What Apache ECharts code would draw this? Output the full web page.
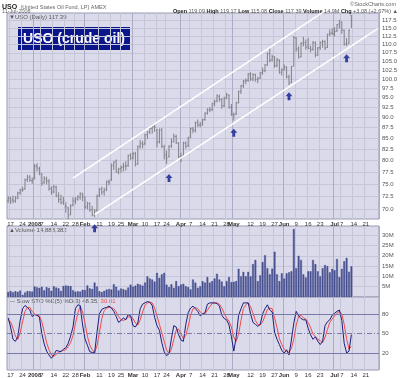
<!DOCTYPE html>
<html>
<head>
<meta charset="utf-8">
<script src="https://cdn.jsdelivr.net/npm/echarts@6/dist/echarts.min.js"></script>
<style>
  html, body { margin: 0; padding: 0; background: #fff; }
  #chart { width: 400px; height: 378px; }
</style>
</head>
<body>
<div id="chart"></div>
<script>
// trading days per month (last group = empty future days on the axis)
const tradeMonths = ['2007-12', '2008-01', '2008-02', '2008-03', '2008-04', '2008-05', '2008-06', '2008-07']
const tradeDays = [
    [14, 17, 18, 19, 20, 21, 24, 26, 27, 28, 31],
    [2, 3, 4, 7, 8, 9, 10, 11, 14, 15, 16, 17, 18, 22, 23, 24, 25, 28, 29, 30, 31],
    [1, 4, 5, 6, 7, 8, 11, 12, 13, 14, 15, 19, 20, 21, 22, 25, 26, 27, 28, 29],
    [3, 4, 5, 6, 7, 10, 11, 12, 13, 14, 17, 18, 19, 20, 24, 25, 26, 27, 28, 31],
    [1, 2, 3, 4, 7, 8, 9, 10, 11, 14, 15, 16, 17, 18, 21, 22, 23, 24, 25, 28, 29, 30],
    [1, 2, 5, 6, 7, 8, 9, 12, 13, 14, 15, 16, 19, 20, 21, 22, 23, 27, 28, 29, 30],
    [2, 3, 4, 5, 6, 9, 10, 11, 12, 13, 16, 17, 18, 19, 20, 23, 24, 25, 26, 27, 30],
    [1, 2, 3, 7, 8, 9, 10, 11, 14, 15, 16, 17, 18, 21, 22, 23, 24, 25, 28]
]

// tick labels on the date axis
const tickDates = ['2007-12-17', '2007-12-24', '2008-01-02', '2008-01-07', '2008-01-14', '2008-01-22', '2008-01-28',
    '2008-02-01', '2008-02-11', '2008-02-19', '2008-02-25', '2008-03-03', '2008-03-10', '2008-03-17', '2008-03-24',
    '2008-04-01', '2008-04-07', '2008-04-14', '2008-04-21', '2008-04-28', '2008-05-01', '2008-05-12', '2008-05-19',
    '2008-05-27', '2008-06-02', '2008-06-09', '2008-06-16', '2008-06-23', '2008-07-01', '2008-07-07', '2008-07-14', '2008-07-21']
const tickTexts = ['17', '24', '2008', '7', '14', '22', '28', 'Feb', '11', '19', '25', 'Mar', '10', '17', '24',
    'Apr', '7', '14', '21', '28', 'May', '12', '19', '27', 'Jun', '9', '16', '23', 'Jul', '7', '14', '21']
const monthTicks = ['2008', 'Feb', 'Mar', 'Apr', 'May', 'Jun', 'Jul']

const priceTicks = [70, 72.5, 75, 77.5, 80, 82.5, 85, 87.5, 90, 92.5, 95, 97.5, 100, 102.5, 105, 107.5, 110, 112.5, 115, 117.5]
const volTicks = [5, 10, 15, 20, 25, 30]
const stoTicks = [20, 50, 80]

// USO daily bars, Dec 14 2007 .. Jul 11 2008
const opens = [
    71.6, 72.0, 71.8, 71.6, 72.2, 73.2, 73.8, 74.0, 75.9, 76.4, 75.7,
    76.1, 78.8, 78.2, 77.0, 75.4, 76.0, 75.5, 74.0, 73.4, 74.3, 72.5, 71.9, 71.3, 70.4, 70.2, 69.0, 70.8, 71.5, 72.0, 72.3, 73.0,
    72.2, 70.5, 71.0, 69.9, 68.9, 69.7, 72.6, 74.0, 73.4, 73.9, 75.4, 75.8, 78.8, 79.8, 77.4, 78.2, 78.5, 78.9, 78.9, 81.1,
    80.7, 81.5, 79.3, 83.2, 83.7, 83.8, 85.9, 86.5, 87.3, 87.8, 86.9, 84.2, 86.9, 83.0, 81.3, 80.9, 83.2, 84.3, 85.4, 83.8,
    81.0, 81.0, 83.8, 83.3, 85.2, 87.2, 86.9, 88.8, 88.2, 88.4, 89.5, 91.1, 92.0, 92.0, 93.5, 94.2, 95.4, 94.5, 93.0, 95.0, 95.6, 92.6,
    90.7, 90.9, 93.8, 96.7, 98.2, 99.5, 99.7, 101.3, 100.1, 101.2, 99.8, 100.3, 101.8, 102.4, 104.0, 107.3, 105.4, 106.2, 103.8, 105.3, 101.9,
    102.7, 103.2, 100.5, 99.1, 103.7, 111.9, 108.6, 106.4, 110.4, 110.5, 109.6, 108.8, 108.5, 110.4, 106.9, 109.1, 110.5, 110.9, 109.1, 113.1, 113.5,
    113.2, 114.2, 116.3, 116.9, 114.3, 110.2, 110.4, 119.09
]
const highs = [
    72.5, 72.4, 72.6, 72.5, 73.4, 74.0, 74.4, 76.1, 76.9, 76.8, 76.3,
    79.2, 79.4, 78.6, 77.3, 76.6, 76.5, 76.0, 74.5, 74.8, 74.6, 73.3, 72.8, 72.4, 71.3, 70.4, 70.9, 72.3, 72.3, 72.7, 73.3, 73.2,
    72.4, 71.4, 71.3, 70.6, 70.0, 72.8, 74.1, 74.4, 74.2, 75.7, 75.9, 79.3, 79.8, 80.2, 78.4, 78.9, 79.5, 79.8, 81.3, 81.6,
    81.9, 81.9, 83.3, 84.6, 84.4, 86.0, 86.7, 87.7, 88.2, 88.3, 87.2, 87.3, 87.4, 83.5, 82.2, 83.4, 85.0, 86.1, 85.8, 84.1,
    81.7, 84.2, 84.3, 85.4, 87.6, 87.7, 89.0, 89.5, 88.9, 89.7, 91.3, 92.3, 92.6, 93.7, 94.5, 95.9, 95.8, 94.9, 95.3, 96.3, 95.9, 93.4,
    91.2, 94.0, 96.9, 98.4, 99.8, 100.2, 101.7, 101.9, 101.6, 101.5, 100.6, 102.0, 103.2, 104.2, 107.6, 108.8, 106.9, 106.5, 106.0, 105.6, 103.0,
    104.1, 103.6, 101.2, 103.7, 112.5, 112.2, 109.4, 110.6, 112.3, 111.5, 112.0, 109.6, 111.0, 110.9, 109.2, 110.9, 111.4, 111.2, 113.3, 114.6, 115.0,
    115.3, 116.3, 117.6, 117.2, 114.6, 111.9, 114.6, 119.17
]
const lows = [
    71.2, 71.0, 71.1, 71.2, 71.9, 72.8, 73.4, 73.8, 75.4, 75.4, 75.0,
    75.9, 77.6, 76.8, 74.6, 75.0, 74.9, 73.6, 72.8, 73.1, 72.3, 71.2, 70.9, 70.8, 69.3, 68.1, 68.8, 70.5, 70.9, 71.6, 71.8, 71.5,
    70.0, 69.9, 69.5, 68.6, 68.4, 69.5, 72.3, 72.8, 72.6, 73.5, 74.7, 75.6, 77.9, 77.3, 77.0, 77.3, 77.6, 77.8, 78.6, 80.1,
    80.2, 78.7, 79.0, 82.6, 82.7, 83.4, 84.8, 86.0, 86.1, 86.5, 82.9, 83.8, 82.8, 80.2, 79.2, 80.6, 82.8, 84.0, 83.7, 80.5,
    79.6, 80.7, 82.6, 83.0, 85.0, 86.2, 86.4, 87.7, 87.6, 88.0, 89.2, 90.7, 91.3, 91.6, 92.8, 93.8, 94.0, 92.2, 92.6, 94.6, 92.2, 90.4,
    89.2, 90.6, 93.5, 96.0, 97.6, 98.6, 99.2, 99.5, 99.4, 99.3, 98.9, 100.0, 101.2, 101.9, 103.7, 104.7, 104.9, 103.2, 103.3, 101.5, 101.0,
    102.4, 100.2, 98.4, 98.9, 103.5, 107.8, 105.8, 106.1, 109.4, 108.4, 108.5, 107.6, 108.1, 106.2, 106.6, 108.3, 109.0, 108.3, 108.9, 112.5, 112.8,
    112.4, 113.8, 114.9, 113.3, 109.6, 109.5, 110.2, 115.08
]
const closes = [
    72.1, 71.6, 71.5, 72.1, 73.1, 73.7, 73.8, 75.8, 76.3, 75.8, 75.8,
    78.7, 78.4, 77.3, 75.1, 76.1, 75.6, 74.0, 73.2, 74.4, 72.6, 71.8, 71.2, 71.6, 70.5, 68.7, 70.6, 71.7, 71.9, 72.4, 72.9, 72.5,
    70.3, 71.1, 69.8, 68.8, 69.6, 72.5, 73.9, 73.3, 73.7, 75.4, 75.4, 79.0, 79.6, 77.6, 78.1, 78.4, 78.7, 78.7, 81.0, 80.5,
    81.4, 79.1, 83.1, 83.8, 83.6, 85.8, 86.5, 87.4, 87.7, 87.6, 84.0, 87.0, 83.1, 81.0, 80.5, 83.1, 84.2, 85.5, 84.0, 80.8,
    80.8, 83.9, 83.1, 85.0, 87.3, 86.8, 88.7, 88.1, 88.1, 89.4, 91.0, 91.9, 91.9, 93.4, 94.0, 95.5, 94.6, 92.8, 94.8, 95.8, 92.5, 90.8,
    90.6, 93.6, 96.6, 98.1, 99.4, 99.6, 101.4, 100.0, 101.3, 99.9, 100.2, 101.7, 102.3, 103.9, 107.2, 105.3, 106.4, 103.7, 105.5, 101.9, 102.5,
    103.4, 100.6, 98.9, 103.4, 112.1, 108.7, 106.2, 110.3, 110.6, 109.1, 108.9, 108.4, 110.6, 106.7, 108.9, 110.6, 110.8, 108.9, 113.0, 113.4, 113.3,
    114.0, 116.1, 117.5, 114.4, 110.1, 110.1, 114.3, 117.39
]
// volume, millions of shares
const volumes = [
    2.4, 2.9, 2.3, 2.8, 2.5, 3.1, 1.0, 2.2, 2.9, 2.8, 2.6,
    5.1, 4.7, 4.4, 5.0, 3.2, 4.8, 4.4, 3.0, 5.2, 4.6, 4.2, 2.9, 5.3, 5.6, 5.4, 5.3, 3.3, 2.6, 2.8, 2.6, 3.5,
    3.4, 5.6, 4.2, 3.9, 7.0, 5.1, 2.8, 2.4, 3.0, 3.6, 3.9, 3.6, 6.2, 5.0, 3.2, 4.1, 3.8, 3.4, 4.6, 6.0,
    5.0, 5.5, 6.4, 6.0, 5.5, 7.0, 10.0, 9.0, 8.5, 7.5, 11.7, 9.3, 11.0, 11.7, 6.0, 4.8, 6.2, 4.5, 7.7, 5.2,
    6.0, 6.4, 5.2, 4.8, 3.7, 8.5, 7.0, 4.5, 5.2, 7.7, 7.0, 9.7, 7.0, 7.7, 9.0, 11.3, 8.5, 7.5, 5.2, 7.7, 9.7, 7.2,
    7.4, 7.7, 13.7, 10.0, 12.2, 10.0, 12.2, 10.0, 16.0, 18.0, 7.7, 10.5, 17.0, 20.3, 14.0, 11.0, 13.8, 22.0, 11.0, 7.7, 11.5,
    9.0, 11.5, 12.0, 12.5, 33.0, 14.0, 20.0, 18.0, 11.0, 9.5, 12.5, 12.5, 18.0, 16.0, 12.5, 10.0, 14.0, 15.5, 15.0, 12.0, 13.7,
    13.0, 18.5, 9.7, 13.7, 17.4, 19.0, 12.3, 14.89
]
// slow stochastics %K(5) and %D(3)
const stoK = [
    74, 60, 41, 38, 45, 70, 88, 93, 90, 86, 76,
    79, 78, 75, 50, 34, 23, 17, 12, 17, 24, 23, 22, 26, 28, 35, 46, 60, 88, 94, 93, 63,
    42, 32, 22, 21, 20, 52, 80, 87, 89, 90, 92, 89, 84, 76, 67, 70, 74, 71, 79, 77,
    62, 60, 66, 88, 95, 97, 99, 98, 93, 75, 62, 55, 36, 22, 16, 19, 42, 62, 60, 48,
    40, 38, 64, 82, 89, 92, 88, 84, 77, 80, 82, 95, 97, 97, 97, 96, 92, 78, 73, 71, 63, 45,
    23, 45, 78, 88, 97, 97, 97, 80, 67, 64, 61, 64, 80, 88, 94, 86, 83, 52, 41, 33, 24,
    20, 25, 17, 40, 66, 84, 77, 73, 71, 71, 58, 48, 41, 45, 38, 33, 38, 62, 68, 71, 78,
    81, 84, 86, 70, 35, 20, 23, 48.35
]
const stoD = [
    70, 68, 58, 46, 41, 51, 68, 84, 90, 90, 84,
    80, 78, 77, 68, 53, 36, 25, 17, 15, 18, 21, 23, 24, 25, 30, 36, 47, 65, 81, 92, 83,
    66, 46, 32, 25, 21, 31, 51, 73, 85, 89, 90, 90, 88, 83, 76, 71, 70, 72, 75, 76,
    73, 66, 63, 71, 83, 93, 97, 98, 97, 89, 77, 64, 51, 38, 25, 19, 26, 41, 55, 57,
    49, 42, 47, 61, 78, 88, 90, 88, 83, 80, 80, 86, 91, 96, 97, 97, 95, 89, 81, 74, 69, 60,
    44, 38, 49, 70, 88, 94, 97, 91, 81, 70, 64, 63, 68, 77, 87, 89, 88, 74, 59, 42, 33,
    26, 23, 21, 27, 41, 63, 76, 78, 74, 72, 67, 59, 49, 45, 41, 39, 36, 44, 56, 67, 72,
    77, 81, 84, 80, 64, 42, 26, 30.01
]

// channel lines and marked lows: [date, price]
const upperLine = [['2008-01-25', 76.2], ['2008-07-28', 132.8]]
const lowerLine = [['2008-02-07', 68.9], ['2008-07-28', 114.9]]
const arrowPts = [['2008-02-07', 66.4], ['2008-03-25', 76.2], ['2008-05-01', 86.3], ['2008-06-04', 95.4], ['2008-07-09', 105.9]]

// build categories
const dates = []
tradeMonths.forEach((m, i) => {
    tradeDays[i].forEach(d => dates.push(m + '-' + String(d).padStart(2, '0')))
})

const ohlc = closes.map((c, i) => [i, Math.log(opens[i]), Math.log(highs[i]), Math.log(lows[i]), Math.log(c)])
const toLog = pts => pts.map(p => [p[0], Math.log(p[1])])

const bg = '#dadaea'
const gridLight = '#c6c6d9'
const gridMonth = '#acacc6'
const labelFont = 'Liberation Sans'

const isTick = (idx, v) => tickDates.indexOf(v) >= 0
const isMonth = (idx, v) => {
    const k = tickDates.indexOf(v)
    return k >= 0 && monthTicks.indexOf(tickTexts[k]) >= 0
}
const tickFmt = v => {
    const t = tickTexts[tickDates.indexOf(v)]
    return monthTicks.indexOf(t) >= 0 ? '{b|' + t + '}' : t
}

// one pair of x axes per panel: weekly lines + labels, and darker month lines
function xAxes(gridIndex, showLabel) {
    return [
        {
            type: 'category', gridIndex: gridIndex, data: dates, boundaryGap: true,
            axisLine: { show: false }, axisTick: { show: false },
            axisLabel: {
                show: showLabel, interval: isTick, formatter: tickFmt, fontSize: 6, color: '#333',
                fontFamily: labelFont, margin: 2, rich: { b: { fontWeight: 'bold', fontSize: 6, fontFamily: labelFont } }
            },
            splitLine: { show: true, interval: isTick, lineStyle: { color: gridLight, width: 1 } }
        },
        {
            type: 'category', gridIndex: gridIndex, data: dates, boundaryGap: true,
            axisLine: { show: false }, axisTick: { show: false }, axisLabel: { show: false },
            splitLine: { show: true, interval: isMonth, lineStyle: { color: gridMonth, width: 1 } }
        }
    ]
}

const chart = echarts.init(document.getElementById('chart'))

const option = {
    animation: false,
    backgroundColor: '#fff',
    textStyle: { fontFamily: labelFont },
    grid: [
        { left: 7, right: 21, top: 13, height: 206, show: true, backgroundColor: bg, borderColor: '#9a9ab2', borderWidth: 1 },
        { left: 7, right: 21, top: 226, height: 71, show: true, backgroundColor: bg, borderColor: '#9a9ab2', borderWidth: 1 },
        { left: 7, right: 21, top: 297, height: 73, show: true, backgroundColor: bg, borderColor: '#9a9ab2', borderWidth: 1 }
    ],
    xAxis: [].concat(xAxes(0, true), xAxes(1, false), xAxes(2, true)),
    yAxis: [
        {
            type: 'value', gridIndex: 0, position: 'right',
            min: Math.log(68.1), max: Math.log(119.9),
            axisLine: { show: false },
            axisTick: { show: false, customValues: priceTicks.map(Math.log) },
            axisLabel: {
                customValues: priceTicks.map(Math.log), formatter: v => Math.exp(v).toFixed(1),
                fontSize: 6, color: '#555', margin: 3
            },
            splitLine: { show: true, lineStyle: { color: gridLight } }
        },
        {
            type: 'value', gridIndex: 1, position: 'right', min: 0, max: 34.5,
            axisLine: { show: false },
            axisTick: { show: false, customValues: volTicks },
            axisLabel: { customValues: volTicks, formatter: v => v + 'M', fontSize: 6, color: '#555', margin: 3 },
            splitLine: { show: true, lineStyle: { color: gridLight } }
        },
        {
            type: 'value', gridIndex: 2, position: 'right', min: -6, max: 106,
            axisLine: { show: false },
            axisTick: { show: false, customValues: stoTicks },
            axisLabel: { customValues: stoTicks, fontSize: 6, color: '#555', margin: 3 },
            splitLine: { show: false }
        }
    ],
    series: [
        {
            type: 'custom', name: 'USO', xAxisIndex: 0, yAxisIndex: 0,
            data: ohlc,
            encode: { x: 0, y: [1, 2, 3, 4] },
            renderItem: function (params, api) {
                const i = api.value(0)
                const o = api.coord([i, api.value(1)])
                const h = api.coord([i, api.value(2)])
                const l = api.coord([i, api.value(3)])
                const c = api.coord([i, api.value(4)])
                const st = { stroke: '#808088', lineWidth: 1 }
                return {
                    type: 'group',
                    children: [
                        { type: 'line', shape: { x1: h[0], y1: h[1], x2: l[0], y2: l[1] }, style: st },
                        { type: 'line', shape: { x1: o[0] - 1, y1: o[1], x2: o[0], y2: o[1] }, style: st },
                        { type: 'line', shape: { x1: c[0], y1: c[1], x2: c[0] + 1, y2: c[1] }, style: st }
                    ]
                }
            }
        },
        {
            type: 'line', xAxisIndex: 0, yAxisIndex: 0, data: toLog(upperLine),
            symbol: 'none', lineStyle: { color: '#ffffff', width: 1.5 }, silent: true, z: 3
        },
        {
            type: 'line', xAxisIndex: 0, yAxisIndex: 0, data: toLog(lowerLine),
            symbol: 'none', lineStyle: { color: '#ffffff', width: 1.5 }, silent: true, z: 3
        },
        {
            type: 'scatter', xAxisIndex: 0, yAxisIndex: 0, data: toLog(arrowPts), clip: false,
            symbol: 'path://M5,0 L10,5 L7,5 L7,10 L3,10 L3,5 L0,5 Z', symbolSize: [7, 8],
            itemStyle: { color: '#0c1a8c' }, z: 4
        },
        {
            type: 'bar', name: 'Volume', xAxisIndex: 2, yAxisIndex: 1, data: volumes,
            barWidth: '72%', itemStyle: { color: '#4f5a97', borderColor: '#2c357e', borderWidth: 0.4 }
        },
        {
            type: 'line', name: '%K', xAxisIndex: 4, yAxisIndex: 2, data: stoK,
            symbol: 'none', lineStyle: { color: '#1d1d7e', width: 1 }, z: 4,
            markLine: {
                silent: true, symbol: 'none', label: { show: false },
                lineStyle: { color: '#7a7aa8', width: 1, type: 'solid' },
                data: [
                    { yAxis: 80 },
                    { yAxis: 50, lineStyle: { type: [5, 2, 1, 2], color: '#7a7aa8' } },
                    { yAxis: 20 }
                ]
            }
        },
        {
            type: 'line', name: '%D', xAxisIndex: 4, yAxisIndex: 2, data: stoD,
            symbol: 'none', lineStyle: { color: '#f24a4a', width: 1 }, z: 3
        }
    ],
    graphic: [
        {
            type: 'text', left: 2, top: 1,
            style: {
                text: '{a|USO} {b|(United States Oil Fund, LP) AMEX}',
                rich: {
                    a: { fontSize: 7, fontWeight: 'bold', fill: '#222', fontFamily: labelFont },
                    b: { fontSize: 5.5, fill: '#666', fontFamily: labelFont }
                }
            }
        },
        { type: 'text', left: 2, top: 8, style: { text: '11-Jul-2008', fontSize: 5.5, fill: '#666', fontFamily: labelFont } },
        { type: 'text', right: 4, top: 1, style: { text: '©StockCharts.com', fontSize: 5.5, fill: '#666', fontFamily: labelFont } },
        {
            type: 'text', right: 2, top: 8,
            style: {
                text: '{k|Open} 119.09 {k|High} 119.17 {k|Low} 115.08 {k|Close} 117.39 {k|Volume} 14.9M {k|Chg} +3.08 (+2.67%) ▲',
                fontSize: 5.5, fill: '#555', fontFamily: labelFont,
                rich: { k: { fontSize: 5.5, fontWeight: 'bold', fill: '#222', fontFamily: labelFont } }
            }
        },
        { type: 'text', left: 9, top: 14, style: { text: '▼USO (Daily) 117.39', fontSize: 6, fill: '#555', fontFamily: labelFont } },
        { type: 'text', left: 9, top: 227, style: { text: '▲Volume 14,888,382', fontSize: 6, fill: '#555', fontFamily: labelFont } },
        {
            type: 'text', left: 9, top: 298,
            style: {
                text: '— Slow STO %K(5) %D(3) 48.35, {r|30.01}',
                fontSize: 6, fill: '#555', fontFamily: labelFont,
                rich: { r: { fontSize: 6, fill: '#f24a4a', fontFamily: labelFont } }
            }
        },
        // title box
        {
            type: 'group', left: 18, top: 27, z: 10,
            children: [
                { type: 'rect', shape: { x: 0, y: 0, width: 112, height: 23 }, style: { fill: '#0b168a' } },
                {
                    type: 'text', x: 56, y: 12,
                    style: {
                        text: 'USO (crude oil)', fill: '#fff', fontSize: 14, fontWeight: 'bold',
                        fontFamily: labelFont, align: 'center', verticalAlign: 'middle'
                    }
                }
            ]
        }
    ]
}

chart.setOption(option)
</script>
</body>
</html>
